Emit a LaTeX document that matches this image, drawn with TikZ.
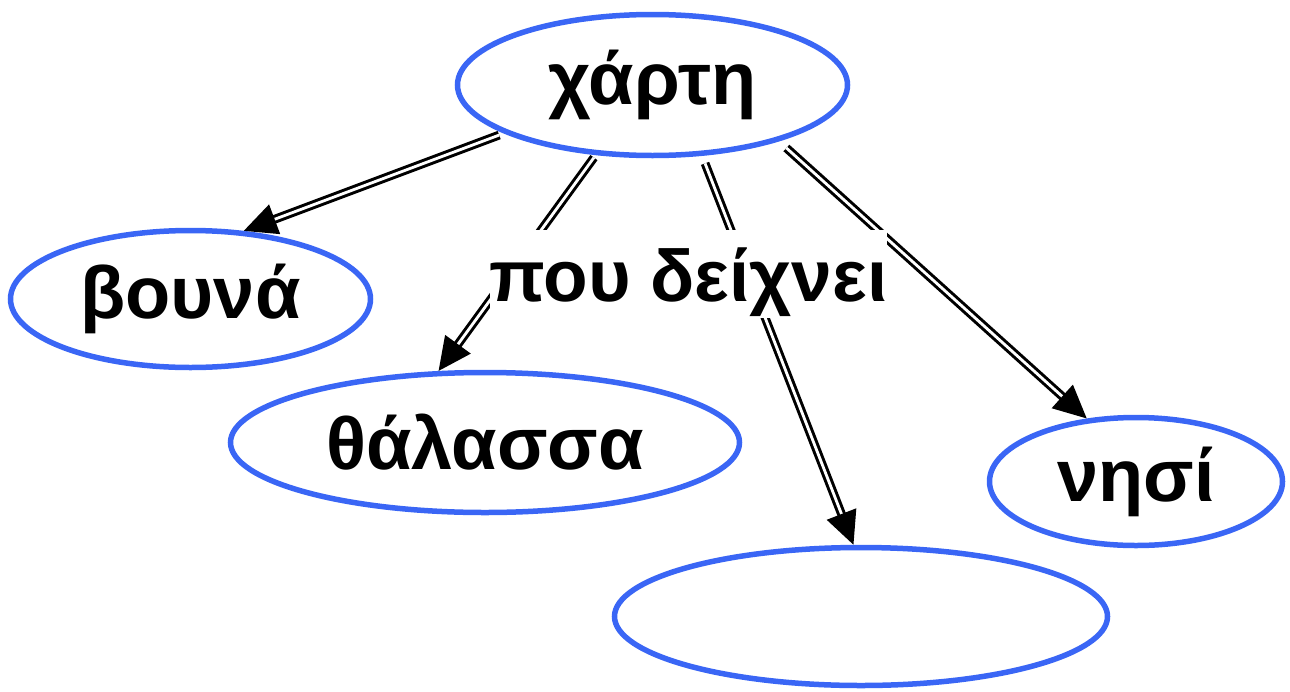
\documentclass[tikz,border=0pt]{standalone}
\usepackage{fontspec}
\setmainfont{Liberation Sans}
\usetikzlibrary{shapes.geometric,arrows.meta}
\definecolor{ovalblue}{RGB}{58,102,245}
\begin{document}
\begin{tikzpicture}[x=1pt,y=-1pt,
  oval/.style={ellipse,draw=ovalblue,line width=5.5pt,inner sep=0pt,
    font=\bfseries\fontsize{74}{80}\selectfont},
  link/.style={double,double distance=2.8pt,line width=3pt,
    -{Triangle[length=33pt,width=31pt]}},
  tag/.style={fill=white,inner sep=0pt,
    font=\bfseries\fontsize{73}{80}\selectfont}]
\useasboundingbox (0,0) rectangle (1290,691);
\node[oval,minimum width=390pt,minimum height=141pt] (map) at (652.5,85) {χάρτη};
\node[oval,minimum width=360pt,minimum height=137pt] (mount) at (190.5,299) {βουνά};
\node[oval,minimum width=509pt,minimum height=140pt] (sea) at (485,442.5) {θάλασσα};
\node[oval,minimum width=293pt,minimum height=128pt] (island) at (1136,481.5) {νησί};
\node[oval,minimum width=493pt,minimum height=138pt] (empty) at (861,616.5) {};
\draw[link,shorten <=5pt] (map.198) -- (mount.52);
\draw[link,shorten <=3pt] (map.231) -- (sea.123);
\draw[link,shorten <=8pt] (map.305) -- (empty.96);
\draw[link,shorten <=10pt] (map.336) -- (island.128);
\node[tag,minimum width=383pt,minimum height=88pt,text height=60pt,text depth=6pt] (lbl) at (688.5,274) {που δείχνει};
\end{tikzpicture}
\end{document}
